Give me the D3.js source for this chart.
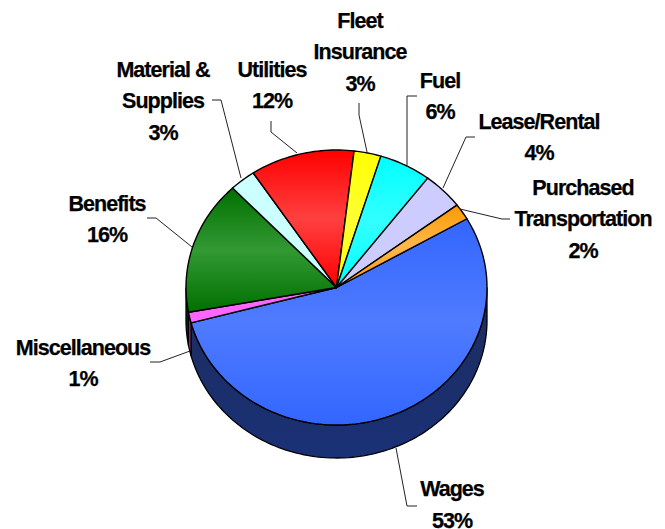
<!DOCTYPE html>
<html>
<head>
<meta charset="utf-8">
<script src="https://cdn.jsdelivr.net/npm/d3@7"></script>
<style>
html, body { margin: 0; padding: 0; background: #fff; }
text { font-family: "Liberation Sans", Arial, sans-serif; font-weight: bold; font-size: 21.5px; letter-spacing: -0.95px; fill: #000; stroke: #000; stroke-width: 0.25px; text-anchor: middle; }
</style>
</head>
<body>
<svg id="chart" width="665" height="529"></svg>
<script>
// slices clockwise, starting at the Wages edge
var categories = ["Wages", "Miscellaneous", "Benefits", "Material & Supplies", "Utilities", "Fleet Insurance", "Fuel", "Lease/Rental", "Purchased Transportation"];
var shares = [54.2, 1.25, 15.75, 2.8, 11.2, 2.9, 5.6, 4.4, 1.9];
var percentLabels = ["53%", "1%", "16%", "3%", "12%", "3%", "6%", "4%", "2%"];
var baseColors = ["#3366ff", "#ff66ff", "#007000", "#ccffff", "#ff0000", "#ffff00", "#00ffff", "#ccccff", "#ff9900"];
var midColors = ["#4f7bff", "#ff66ff", "#339933", "#ccffff", "#ff4040", "#ffff33", "#33ffff", "#ccccff", "#ffb84d"];
var wallColors = ["#1a2f75", "#993399", "#003000", "#668080", "#800000", "#808000", "#008080", "#666680", "#7f4c00"];

// label lines, one array per category
var labelLines = [["Wages"], ["Miscellaneous"], ["Benefits"], ["Material &", "Supplies"], ["Utilities"], ["Fleet", "Insurance"], ["Fuel"], ["Lease/Rental"], ["Purchased", "Transportation"]];
var labelX = [452, 83, 107, 163, 272, 360, 440, 539, 583];
var labelY = [488.5, 347, 203, 69, 69, 20, 80, 121, 187];
// leader: elbow points from the label side, ends on the rim of its slice
var leaders = [
  [[417, 506], [407, 506], [396, 448]],
  [[150, 362], [160, 362], [190, 351]],
  [[147, 218], [156, 218], [192, 247]],
  [[212, 100], [221, 100], [241, 178]],
  [[271, 121], [271, 132], [297, 153]],
  [[359, 103], [359, 115], [367, 152]],
  [[417, 96], [407, 96], [407, 165]],
  [[475, 137], [466, 137], [443, 188]],
  [[510, 219], [502, 219], [460, 209]]
];

var cx = 336.5, cy = 287.5, rx = 150.5, ry = 137.5, depth = 33;
var startAngle = 60 * Math.PI / 180;

var svg = d3.select("#chart");
var defs = svg.append("defs");

var pie = d3.pie().sort(null).value(function(d) { return d; })
  .startAngle(startAngle).endAngle(startAngle + 2 * Math.PI);
var arcs = pie(shares);

// unit circle, stretched to the tilted ellipse
var x = d3.scaleLinear().domain([-1, 1]).range([cx - rx, cx + rx]);
var y = d3.scaleLinear().domain([-1, 1]).range([cy - ry, cy + ry]);

function rim(a, off) {
  return [x(Math.sin(a)), y(-Math.cos(a)) + (off || 0)];
}

function slicePath(d) {
  var n = Math.max(8, Math.ceil((d.endAngle - d.startAngle) * 40));
  var p = d3.path();
  p.moveTo(cx, cy);
  d3.range(n + 1).forEach(function(i) {
    var pt = rim(d.startAngle + (d.endAngle - d.startAngle) * i / n);
    p.lineTo(pt[0], pt[1]);
  });
  p.closePath();
  return p.toString();
}

// wall is only visible on the front half of the ellipse
function wallPath(d) {
  var a0 = Math.max(d.startAngle, Math.PI / 2), a1 = Math.min(d.endAngle, 3 * Math.PI / 2);
  if (a1 <= a0) return null;
  var n = Math.ceil((a1 - a0) * 40), top = [], bottom = [];
  d3.range(n + 1).forEach(function(i) {
    var a = a0 + (a1 - a0) * i / n;
    top.push(rim(a));
    bottom.push(rim(a, depth));
  });
  return d3.line()(top.concat(bottom.reverse())) + "Z";
}

// each slice gets its own dark - light - dark band
arcs.forEach(function(d, i) {
  var g = defs.append("linearGradient").attr("id", "grad" + i)
    .attr("x1", 0).attr("y1", 0).attr("x2", 0).attr("y2", 1);
  g.append("stop").attr("offset", "0%").attr("stop-color", baseColors[i]);
  g.append("stop").attr("offset", "50%").attr("stop-color", midColors[i]);
  g.append("stop").attr("offset", "100%").attr("stop-color", baseColors[i]);
});
var wg = defs.append("linearGradient").attr("id", "wallGrad")
  .attr("x1", 0).attr("y1", 0).attr("x2", 0).attr("y2", 1);
wg.append("stop").attr("offset", "0%").attr("stop-color", "#1d2c5e");
wg.append("stop").attr("offset", "100%").attr("stop-color", "#1a3176");

svg.append("g").selectAll("path")
  .data(arcs)
  .enter().append("path")
  .filter(function(d) { return wallPath(d) != null; })
  .attr("d", wallPath)
  .attr("fill", function(d) { return d.index == 0 ? "url(#wallGrad)" : wallColors[d.index]; })
  .attr("stroke", "#000")
  .attr("stroke-width", 1.3);

// leaders
svg.append("g").selectAll("polyline")
  .data(leaders)
  .enter().append("polyline")
  .attr("points", function(d) { return d.join(" "); })
  .attr("fill", "none")
  .attr("stroke", "#222")
  .attr("stroke-width", 1);

svg.append("g").selectAll("path")
  .data(arcs)
  .enter().append("path")
  .attr("d", slicePath)
  .attr("fill", function(d) { return "url(#grad" + d.index + ")"; })
  .attr("stroke", "#000")
  .attr("stroke-width", 1.4)
  .attr("stroke-linejoin", "round");

var labels = svg.append("g").selectAll("text")
  .data(labelLines)
  .enter().append("text")
  .attr("transform", function(d, i) { return "translate(" + labelX[i] + "," + labelY[i] + ")"; });
labels.selectAll("tspan")
  .data(function(d, i) { return d.concat(percentLabels[i]); })
  .enter().append("tspan")
  .attr("x", 0)
  .attr("y", function(d, i) { return i * 31.7; })
  .attr("dy", "0.35em")
  .text(function(d) { return d; });
</script>
</body>
</html>
